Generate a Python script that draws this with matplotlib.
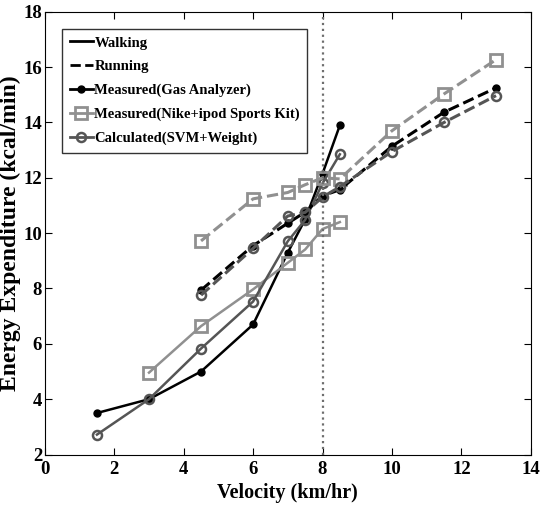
import numpy as np
import matplotlib
matplotlib.use("Agg")
import matplotlib.pyplot as plt
from matplotlib.lines import Line2D

plt.rcParams['font.family'] = ['Liberation Serif', 'DejaVu Serif']
plt.rcParams['font.weight'] = 'bold'

# walking speeds (km/hr)
v_walk = [1.5, 3, 4.5, 6, 7, 7.5, 8, 8.5]
gas_walk = [3.5, 4.0, 5.0, 6.7, 9.3, 10.5, 12.15, 13.9]
nike_walk_v = [3, 4.5, 6, 7, 7.5, 8, 8.5]
nike_walk = [4.96, 6.64, 7.97, 8.93, 9.41, 10.15, 10.4]
calc_walk = [2.72, 4.0, 5.83, 7.53, 9.71, 10.48, 11.8, 12.85]

# running speeds (km/hr)
v_run = [4.5, 6, 7, 7.5, 8, 8.5, 10, 11.5, 13]
gas_run = [7.94, 9.55, 10.36, 10.76, 11.35, 11.57, 13.14, 14.37, 15.25]
nike_run = [9.72, 11.24, 11.47, 11.75, 12.0, 11.96, 13.7, 15.03, 16.27]
calc_run = [7.76, 9.45, 10.62, 10.75, 11.3, 11.68, 12.95, 14.0, 14.97]

c_gas = 'black'
c_nike = '#909090'
c_calc = '#555555'

fig = plt.figure(figsize=(5.41, 5.13), dpi=100)
ax = fig.add_axes([0.083, 0.114, 0.898, 0.863])

lw = 1.8
ax.plot(v_walk, gas_walk, '-', color=c_gas, lw=lw, marker='o', ms=5, mfc=c_gas)
ax.plot(nike_walk_v, nike_walk, '-', color=c_nike, lw=lw, marker='s', ms=8, mfc='none', mew=2)
ax.plot(v_walk, calc_walk, '-', color=c_calc, lw=lw, marker='o', ms=6.5, mfc='none', mew=1.8)

ax.plot(v_run, nike_run, '--', color=c_nike, lw=2.2, marker='s', ms=8, mfc='none', mew=2)
ax.plot(v_run, gas_run, '--', color=c_gas, lw=2.2, marker='o', ms=5, mfc=c_gas)
ax.plot(v_run, calc_run, '--', color=c_calc, lw=2.2, marker='o', ms=6.5, mfc='none', mew=1.8)

ax.axvline(8, color='#6e6e6e', ls=':', lw=1.6)

ax.set_xlim(0, 14)
ax.set_ylim(2, 18)
ax.set_xticks(np.arange(0, 15, 2))
ax.set_yticks(np.arange(2, 19, 2))
ax.tick_params(direction='in', top=True, right=True, labelsize=13.5, length=5)
ax.tick_params(axis='x', pad=5)
ax.tick_params(axis='y', pad=2)
for lbl in ax.get_xticklabels() + ax.get_yticklabels():
    lbl.set_fontweight('bold')

ax.set_xlabel('Velocity (km/hr)', fontsize=14.5, fontweight='bold', labelpad=3)
ax.set_ylabel('Energy Expenditure (kcal/min)', fontsize=17, fontweight='bold', labelpad=2)

handles = [
    Line2D([], [], color='black', lw=2),
    Line2D([], [], color='black', lw=2, ls='--'),
    Line2D([], [], color=c_gas, lw=2, marker='o', ms=5),
    Line2D([], [], color=c_nike, lw=2, marker='s', ms=8, mfc='none', mew=2),
    Line2D([], [], color=c_calc, lw=2, marker='o', ms=6.5, mfc='none', mew=1.8),
]
labels = ['Walking', 'Running', 'Measured(Gas Analyzer)',
          'Measured(Nike+ipod Sports Kit)', 'Calculated(SVM+Weight)']
leg = ax.legend(handles, labels, loc='upper left', bbox_to_anchor=(0.036, 0.961),
                fancybox=False, edgecolor='black', handlelength=1.6, handletextpad=0.1,
                borderpad=0.5, labelspacing=0.72, borderaxespad=0,
                prop={'family': 'Liberation Serif', 'weight': 'bold', 'size': 10.5})
leg.get_frame().set_linewidth(1.0)

fig.savefig('out.png', dpi=100)
